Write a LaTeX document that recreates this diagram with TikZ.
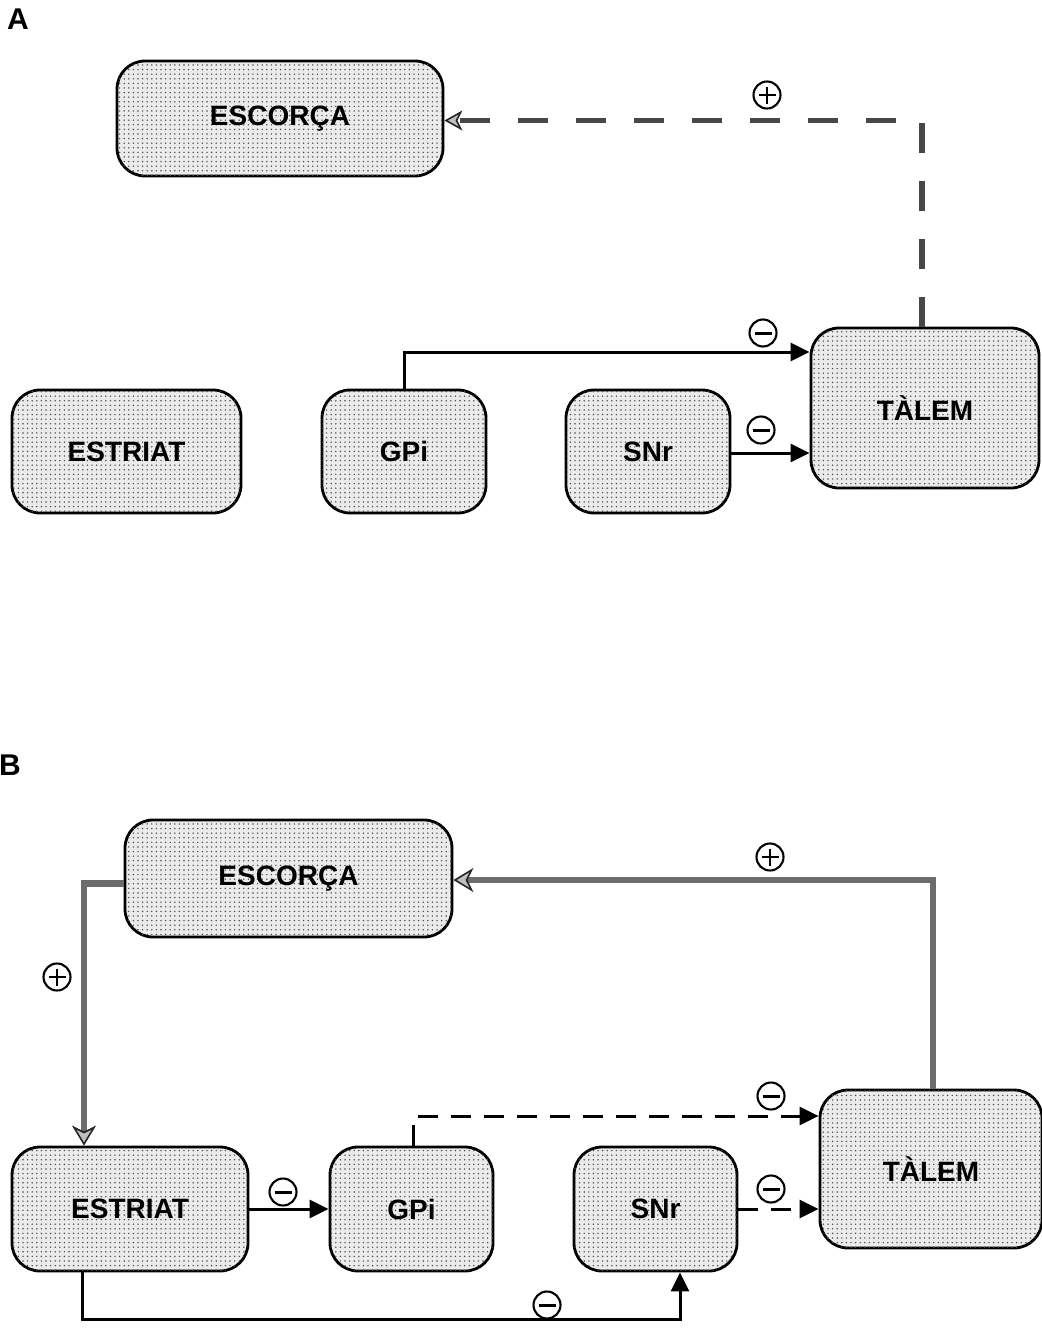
\documentclass[tikz,border=0pt]{standalone}
\usepackage{fontspec}
\setmainfont{Liberation Sans}
\usetikzlibrary{arrows.meta,patterns.meta}

% fine dot screen used inside the boxes
\pgfdeclarepattern{
  name=boxdots, type=uncolored,
  bottom left={\pgfpoint{-1pt}{-1pt}},
  top right={\pgfpoint{1pt}{1pt}},
  tile size={\pgfpoint{4.6pt}{4.6pt}},
  code={\pgfpathcircle{\pgfpointorigin}{0.8pt}\pgfusepath{fill}}
}

\tikzset{
  region/.style={draw=black, line width=2.8pt, rounded corners=28pt,
    fill=black!8, postaction={pattern={boxdots}, pattern color=black!70},
    font=\bfseries\fontsize{28}{32}\selectfont, inner sep=0pt},
  inhib/.style={line width=3pt, -{Triangle[length=19pt,width=18pt]}},
  inhibdash/.style={inhib, dash pattern=on 20pt off 13pt},
  excit/.style={line width=6.5pt, draw=black!58,
    -{Stealth[length=20pt,width=24pt,inset=6pt,fill=black!25,color=black!85,line width=1.6pt]}},
  excitdash/.style={line width=5.5pt, draw=black!72, dash pattern=on 30pt off 28pt,
    -{Stealth[length=18pt,width=20pt,inset=5pt,fill=black!25,color=black!85,line width=1.6pt]}},
  sign/.style={circle, draw, line width=2.1pt, minimum size=27pt, inner sep=0pt},
  plussign/.style={sign, path picture={
    \draw[line width=2.1pt] ([xshift=5pt]path picture bounding box.west) -- ([xshift=-5pt]path picture bounding box.east);
    \draw[line width=2.1pt] ([yshift=-5pt]path picture bounding box.north) -- ([yshift=5pt]path picture bounding box.south);}},
  minussign/.style={sign, path picture={
    \draw[line width=3pt] ([xshift=5pt]path picture bounding box.west) -- ([xshift=-5pt]path picture bounding box.east);}},
  panel/.style={font=\bfseries\fontsize{30}{32}\selectfont}
}

\begin{document}
\begin{tikzpicture}[x=1pt, y=-1pt]
\useasboundingbox (0,0) rectangle (1041,1330);

% ---------- panel A ----------
\node[panel] (labA) at (18,19) {A};
\node[region, minimum width=326pt, minimum height=115pt] (escA) at (280,118.5) {ESCORÇA};
\node[region, minimum width=229pt, minimum height=123pt] (estA) at (126.5,451.5) {ESTRIAT};
\node[region, minimum width=164pt, minimum height=123pt] (gpiA) at (404,451.5) {GPi};
\node[region, minimum width=164pt, minimum height=123pt] (snrA) at (648,451.5) {SNr};
\node[region, minimum width=228pt, minimum height=160pt] (talA) at (925,408) {TÀLEM};

\draw[excitdash] ([xshift=-3pt]talA.north) |- ([yshift=-2pt]escA.east);
\draw[inhib] (gpiA.north) |- ([yshift=56pt]talA.west);
\draw[inhib] ([yshift=-1.5pt]snrA.east) -- ([yshift=-1.5pt]snrA.east -| talA.west);

\node[plussign] (pA1) at (767,95) {};
\node[minussign] (mA1) at (763,333) {};
\node[minussign] (mA2) at (761,430) {};

% ---------- panel B ----------
\node[panel] (labB) at (10,765) {B};
\node[region, minimum width=327pt, minimum height=117pt] (escB) at (288.5,878.5) {ESCORÇA};
\node[region, minimum width=236pt, minimum height=124pt] (estB) at (130,1209) {ESTRIAT};
\node[region, minimum width=163pt, minimum height=124pt] (gpiB) at (411.5,1209) {GPi};
\node[region, minimum width=163pt, minimum height=124pt] (snrB) at (655.5,1209) {SNr};
\node[region, minimum width=222pt, minimum height=158pt] (talB) at (931,1169) {TÀLEM};

\draw[excit] ([xshift=2pt]talB.north) |- ([yshift=-1.5pt]escB.east);
\draw[excit] ([yshift=-5pt]escB.west) -| ([xshift=-46pt]estB.north);
\draw[inhib] (estB.east) -- (gpiB.west);
\draw[inhib] ([xshift=-48pt]estB.south) -- ++(0,47) -| ([xshift=24.5pt]snrB.south);
\draw[line width=3pt] ([xshift=1.5pt]gpiB.north) -- ++(0,-21);
\coordinate (gpiout) at (418,1116);
\draw[inhibdash] (gpiout) -- (gpiout -| talB.west);
\draw[inhibdash] (snrB.east) -- (snrB.east -| talB.west);

\node[plussign] (pB1) at (770,857) {};
\node[plussign] (pB2) at (57,977) {};
\node[minussign] (mB1) at (771,1096) {};
\node[minussign] (mB2) at (771,1189) {};
\node[minussign] (mB3) at (283,1192) {};
\node[minussign] (mB4) at (547,1305) {};
\end{tikzpicture}
\end{document}
